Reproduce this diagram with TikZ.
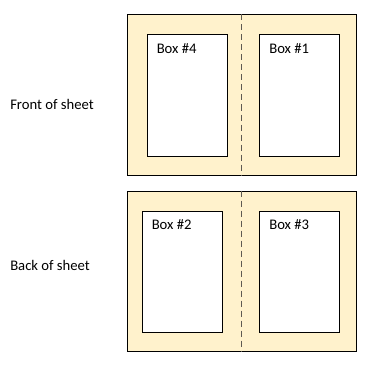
\documentclass[tikz,border=0pt]{standalone}
\usepackage{fontspec}
\setmainfont{Carlito}
\usepackage{tikz}
\usetikzlibrary{positioning}
\definecolor{pcream}{HTML}{FFF2CC}
\definecolor{pfold}{HTML}{5E5A52}
\tikzset{
  psheet/.style={draw=black, fill=pcream, line width=0.75pt, inner sep=0pt,
                 minimum width=171.75pt, minimum height=120pt},
  pbox/.style={draw=black, fill=white, line width=0.75pt, inner sep=0pt,
               minimum width=60pt, minimum height=90.75pt},
  pfoldline/.style={pfold, dashed, dash pattern=on 4.5pt off 3pt, line width=1.4pt},
  ptxt/.style={font=\fontsize{11}{13}\selectfont, inner sep=0pt},
}
\begin{document}
\begin{tikzpicture}[x=0.75pt,y=-0.75pt]
  \useasboundingbox (0,0) rectangle (370,367);

  % front of sheet
  \node[psheet] (front) at (241.5,95) {};
  \draw[pfoldline] (front.north) -- (front.south);
  \node[pbox] (b4) at (187,95.5) {};
  \node[pbox] (b1) at (299.5,95.5) {};
  \node[ptxt, anchor=north west] (t4) at ([xshift=7.5pt,yshift=-6.75pt]b4.north west) {Box \#4};
  \node[ptxt, anchor=north west] (t1) at ([xshift=7.5pt,yshift=-6.75pt]b1.north west) {Box \#1};
  \node[ptxt, anchor=west] (lfront) at (10,104) {Front of sheet};

  % back of sheet
  \node[psheet] (back) at (241.5,271) {};
  \draw[pfoldline] (back.north) -- (back.south);
  \node[pbox] (b2) at (182,271.5) {};
  \node[pbox] (b3) at (299.5,271.5) {};
  \node[ptxt, anchor=north west] (t2) at ([xshift=7.5pt,yshift=-6.75pt]b2.north west) {Box \#2};
  \node[ptxt, anchor=north west] (t3) at ([xshift=7.5pt,yshift=-6.75pt]b3.north west) {Box \#3};
  \node[ptxt, anchor=west] (lback) at (10,265) {Back of sheet};

\end{tikzpicture}
\end{document}
